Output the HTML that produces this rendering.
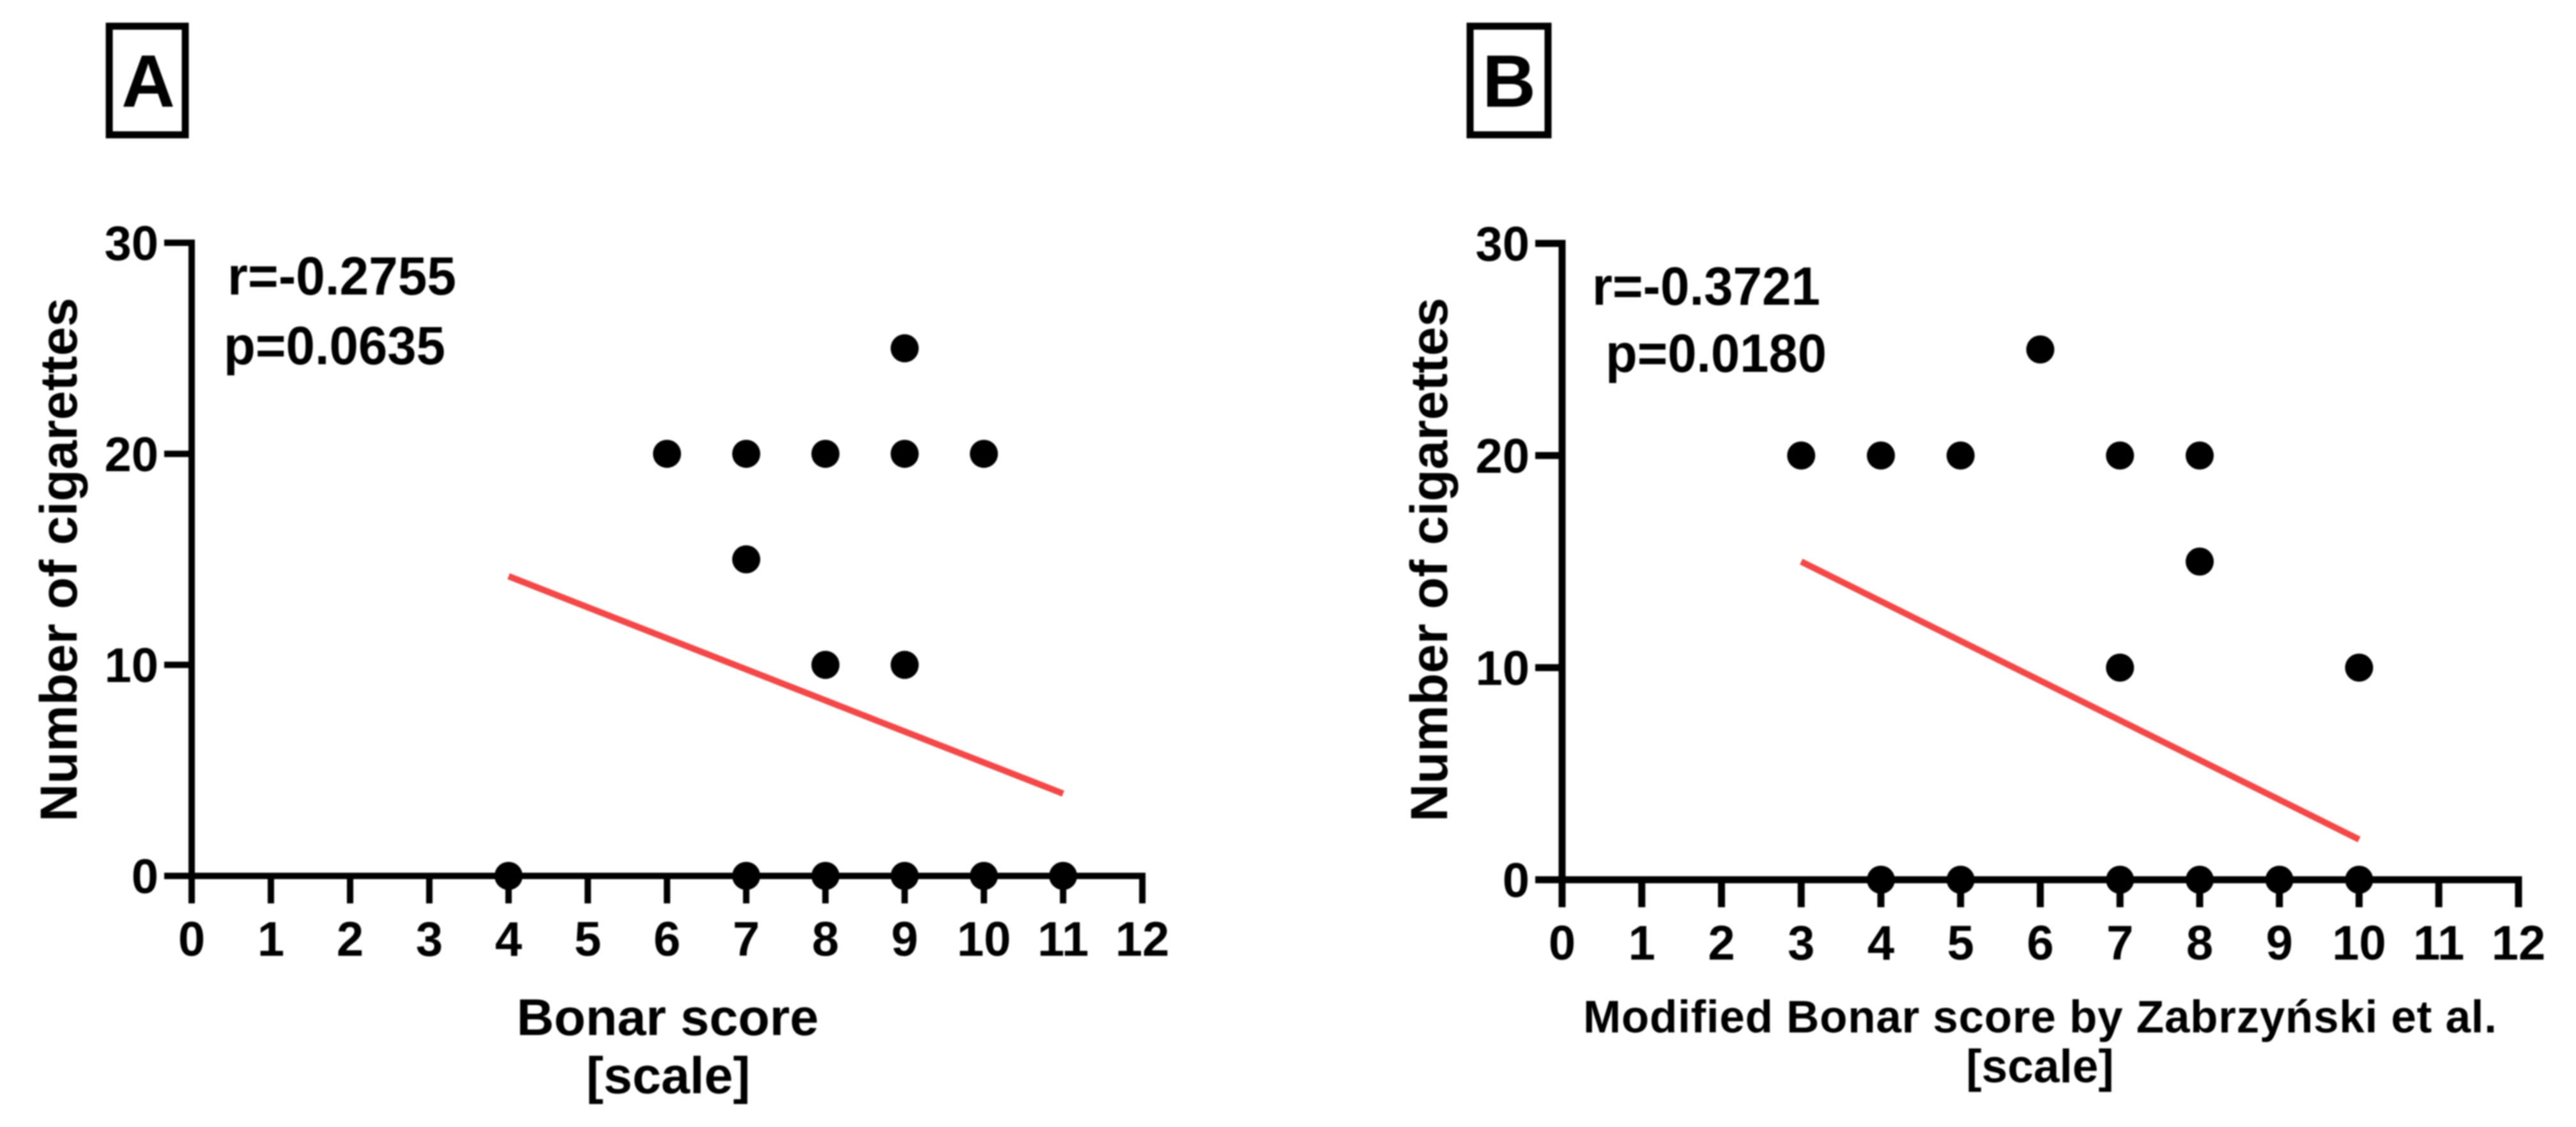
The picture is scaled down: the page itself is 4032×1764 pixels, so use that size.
<!DOCTYPE html>
<html lang="en">
<head>
<meta charset="utf-8">
<title>Cigarettes vs Bonar scores</title>
<style>
html,body{margin:0;padding:0;background:#fff;width:4032px;height:1764px;overflow:hidden}
svg{display:block;filter:blur(1px)}
text{font-family:"Liberation Sans",Arial,sans-serif;font-weight:700;fill:#000}
</style>
</head>
<body>
<svg id="figure" xmlns="http://www.w3.org/2000/svg" width="4032" height="1764" viewBox="0 0 4032 1764">
  <rect x="0" y="0" width="4032" height="1764" fill="#fff"/>

  <rect x="171" y="41" width="119" height="170" fill="none" stroke="#000" stroke-width="11"/>
  <text x="232" y="167" font-size="116" text-anchor="middle">A</text>
  <rect x="2301" y="41" width="122" height="170" fill="none" stroke="#000" stroke-width="11"/>
  <text x="2362" y="167" font-size="116" text-anchor="middle">B</text>

  <g id="panel-a"></g>
  <g id="panel-b"></g>

  <text x="356" y="461" font-size="84" textLength="358" lengthAdjust="spacingAndGlyphs">r=-0.2755</text>
  <text x="350" y="570" font-size="84" textLength="347" lengthAdjust="spacingAndGlyphs">p=0.0635</text>
  <text x="2492" y="477" font-size="84" textLength="357" lengthAdjust="spacingAndGlyphs">r=-0.3721</text>
  <text x="2513" y="582" font-size="84" textLength="346" lengthAdjust="spacingAndGlyphs">p=0.0180</text>

  <text transform="translate(120 876) rotate(-90)" font-size="82" text-anchor="middle">Number of cigarettes</text>
  <text transform="translate(2265 876) rotate(-90)" font-size="82" text-anchor="middle">Number of cigarettes</text>

  <text x="1045" y="1620" font-size="81" text-anchor="middle">Bonar score</text>
  <text x="1046" y="1711" font-size="81" text-anchor="middle">[scale]</text>
  <text x="2478" y="1616" font-size="71" textLength="1430" lengthAdjust="spacing">Modified Bonar score by Zabrzyński et al.</text>
  <text x="3193" y="1694" font-size="73" text-anchor="middle">[scale]</text>
</svg>

<script>
const xTickLabels = [0, 1, 2, 3, 4, 5, 6, 7, 8, 9, 10, 11, 12];
const yTickLabels = [0, 10, 20, 30];

const scoreA = [4, 7, 8, 9, 10, 11, 6, 7, 8, 9, 10, 7, 8, 9, 9];
const cigarettesA = [0, 0, 0, 0, 0, 0, 20, 20, 20, 20, 20, 15, 10, 10, 25];
const fitScoreA = [4, 11];
const fitCigarettesA = [14.2, 3.9];

const scoreB = [4, 5, 7, 8, 9, 10, 3, 4, 5, 7, 8, 6, 8, 7, 10];
const cigarettesB = [0, 0, 0, 0, 0, 0, 20, 20, 20, 20, 20, 25, 15, 10, 10];
const fitScoreB = [3, 10];
const fitCigarettesB = [15, 1.9];

const SVG_NS = 'http://www.w3.org/2000/svg';

function makeAxisX(x0, x12) {
  return function (v) { return x0 + (x12 - x0) * v / 12; };
}
function makeAxisY(y0, y30) {
  return function (v) { return y0 + (y30 - y0) * v / 30; };
}
function add(parent, tag) {
  const el = document.createElementNS(SVG_NS, tag);
  parent.appendChild(el);
  return el;
}
function drawLine(parent, x1, y1, x2, y2, width, color) {
  const el = add(parent, 'line');
  el.setAttribute('x1', x1);
  el.setAttribute('y1', y1);
  el.setAttribute('x2', x2);
  el.setAttribute('y2', y2);
  el.setAttribute('stroke', color);
  el.setAttribute('stroke-width', width);
  return el;
}

function drawPanel(id, xScale, yScale, pointX, pointY, fitX, fitY, axisW, tickBottom, tickLeft, labelY) {
  const root = document.getElementById(id);
  const half = axisW / 2;

  const yAxis = drawLine(root, xScale(0), yScale(30) - half, xScale(0), tickBottom, axisW, '#000');
  
  

  const xAxis = drawLine(root, xScale(0), yScale(0), xScale(12) + half, yScale(0), axisW, '#000');
  
  

  xTickLabels.forEach(function (v) {
    const tick = drawLine(root, xScale(v), yScale(0), xScale(v), tickBottom, axisW, '#000');
    
    

    const label = add(root, 'text');
    
    
    label.setAttribute('x', xScale(v));
    label.setAttribute('y', labelY);
    label.setAttribute('font-size', '76');
    label.setAttribute('text-anchor', 'middle');
    label.textContent = v;
  });

  yTickLabels.forEach(function (v) {
    const tick = drawLine(root, tickLeft, yScale(v), xScale(0), yScale(v), axisW, '#000');
    
    

    const label = add(root, 'text');
    
    
    label.setAttribute('x', tickLeft - 9);
    label.setAttribute('y', yScale(v) + 27);
    label.setAttribute('font-size', '76');
    label.setAttribute('text-anchor', 'end');
    label.textContent = v;
  });

  const fit = drawLine(root, xScale(fitX[0]), yScale(fitY[0]), xScale(fitX[1]), yScale(fitY[1]), 10, '#f44848');
  
  

  pointX.forEach(function (v, i) {
    const dot = add(root, 'circle');
    
    
    dot.setAttribute('cx', xScale(v));
    dot.setAttribute('cy', yScale(pointY[i]));
    dot.setAttribute('r', '22');
    dot.setAttribute('fill', '#000');
  });
}

drawPanel('panel-a', makeAxisX(300, 1788), makeAxisY(1371, 380), scoreA, cigarettesA, fitScoreA, fitCigarettesA, 10, 1414, 257, 1496);
drawPanel('panel-b', makeAxisX(2445, 3942), makeAxisY(1377, 381), scoreB, cigarettesB, fitScoreB, fitCigarettesB, 11, 1420, 2403, 1502);
</script>
</body>
</html>
